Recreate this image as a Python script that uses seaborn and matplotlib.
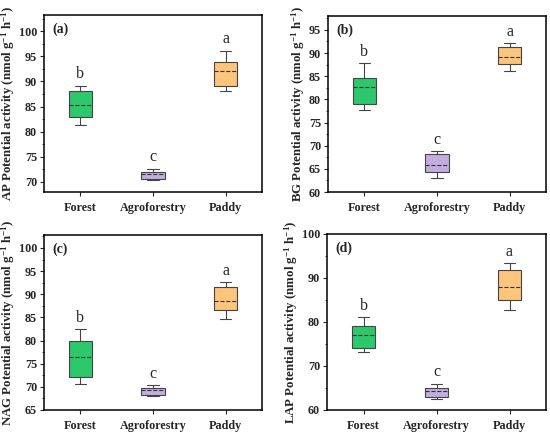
import pandas as pd
import matplotlib.pyplot as plt
import seaborn as sns
from matplotlib.ticker import MultipleLocator

# Groups and five-number summaries (min, q1, median, q3, max)
groups = ['Forest', 'Agroforestry', 'Paddy']
enzymes = ['AP', 'BG', 'NAG', 'LAP']

ap_forest = [81.4, 83.0, 85.4, 88.1, 89.1]
ap_agro = [70.3, 70.65, 71.5, 72.05, 72.65]
ap_paddy = [88.0, 89.0, 92.0, 93.8, 96.1]

bg_forest = [77.8, 78.9, 82.7, 84.7, 87.8]
bg_agro = [63.0, 64.3, 65.9, 68.1, 68.8]
bg_paddy = [86.2, 87.6, 89.1, 91.2, 92.1]

nag_forest = [70.6, 72.1, 76.5, 79.8, 82.5]
nag_agro = [68.0, 68.3, 69.3, 69.8, 70.3]
nag_paddy = [84.6, 86.6, 88.6, 91.6, 92.6]

lap_forest = [73.1, 74.1, 77.1, 79.0, 81.1]
lap_agro = [62.6, 63.0, 64.4, 65.0, 66.0]
lap_paddy = [82.8, 85.0, 88.0, 91.8, 93.3]

letters = ['b', 'c', 'a']
panel_tags = ['(a)', '(b)', '(c)', '(d)']

rows = []
for enz, vals in zip(enzymes, [
        [ap_forest, ap_agro, ap_paddy],
        [bg_forest, bg_agro, bg_paddy],
        [nag_forest, nag_agro, nag_paddy],
        [lap_forest, lap_agro, lap_paddy]]):
    for g, v in zip(groups, vals):
        for x in v:
            rows.append({'enzyme': enz, 'group': g, 'value': x})
df = pd.DataFrame(rows)

sns.set_style('ticks')
plt.rcParams['font.family'] = ['Liberation Serif', 'DejaVu Serif']
plt.rcParams['mathtext.fontset'] = 'custom'
plt.rcParams['mathtext.rm'] = 'Liberation Serif:bold'
plt.rcParams['mathtext.bf'] = 'Liberation Serif:bold'
plt.rcParams['mathtext.default'] = 'bf'

palette = {'Forest': '#2dc86c', 'Agroforestry': '#c2addf', 'Paddy': '#fdc47c'}

fig = plt.figure(figsize=(5.5, 4.33), dpi=100)
W, H = 550, 433
boxes = [(44, 262, 15, 192), (328, 546, 16, 192),
         (44, 262, 235, 410), (327, 546, 234, 410)]
ylims = [(68, 103.2), (60, 98), (65, 102.8), (60, 100)]
majors = [5, 5, 5, 10]

for i, enz in enumerate(enzymes):
    l, r, t, b = boxes[i]
    ax = fig.add_axes([l / W, 1 - b / H, (r - l) / W, (b - t) / H])
    sub = df[df['enzyme'] == enz]
    sns.boxplot(data=sub, x='group', y='value', hue='group', order=groups,
                palette=palette, saturation=1, width=0.32, whis=10,
                linewidth=0.8, linecolor='#444444', legend=False, ax=ax,
                medianprops=dict(linestyle='--', color='#333333', linewidth=0.8))
    ax.set_ylim(*ylims[i])
    ax.yaxis.set_major_locator(MultipleLocator(majors[i]))
    ax.yaxis.set_minor_locator(MultipleLocator(majors[i] / 2))
    ax.tick_params(axis='both', labelsize=8.7, width=0.8, length=3, pad=2)
    ax.tick_params(axis='x', pad=4)
    ax.tick_params(axis='y', which='minor', width=0.6, length=1.8)
    for lab in ax.get_xticklabels() + ax.get_yticklabels():
        lab.set_fontweight('bold')
    for s in ax.spines.values():
        s.set_visible(True)
        s.set_linewidth(1.1)
        s.set_color('black')
    ax.set_xlabel('')
    ax.set_ylabel(enz + r' Potential activity (nmol g$^{-1}$ h$^{-1}$)',
                  fontsize=9.3, fontweight='bold', labelpad=1)
    ax.text(0.04, 0.92, panel_tags[i], transform=ax.transAxes,
            fontsize=10, fontweight='bold', va='center')
    for j, g in enumerate(groups):
        top = sub[sub['group'] == g]['value'].max()
        ax.annotate(letters[j], (j, top), xytext=(0, 2.5),
                    textcoords='offset points', ha='center', va='bottom',
                    fontsize=11.5)

fig.savefig('out.png', dpi=100)
